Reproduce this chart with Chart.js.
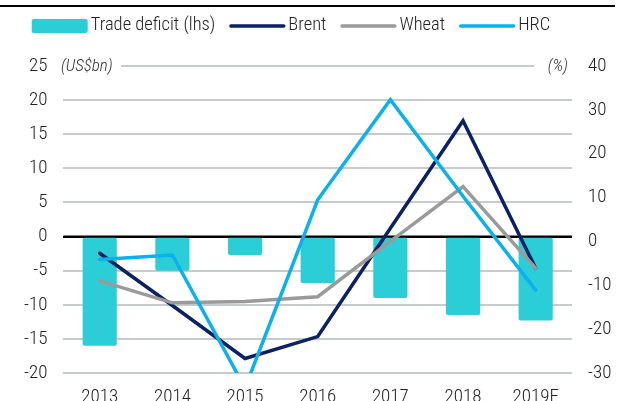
<!DOCTYPE html>
<html><head><meta charset="utf-8">
<script src="https://cdn.jsdelivr.net/npm/chart.js@4"></script>
<style>html,body{margin:0;padding:0;background:#fff}#wrap{width:617px;height:401px;position:relative;overflow:hidden}</style>
</head><body><div id="wrap"><canvas id="c" width="617" height="401"></canvas></div>
<script>
const categories = ['2013','2014','2015','2016','2017','2018','2019F'];
const tradeDeficit = [-16.0, -5.0, -2.7, -6.8, -9.0, -11.5, -12.3];
const brent = [-2.7, -14.6, -26.7, -21.7, 3.0, 27.5, -6.1];
const wheat = [-9.0, -14.0, -13.7, -12.6, 0.0, 12.5, -6.1];
const hrc = [-4.1, -3.1, -33.4, 9.5, 32.3, 10.3, -11.1];
const leftTicks = [-20, -15, -10, -5, 0, 5, 10, 15, 20, 25];
const rightTicks = [-30, -20, -10, 0, 10, 20, 30, 40];
const seriesLabels = ['Trade deficit (lhs)', 'Brent', 'Wheat', 'HRC'];
const unitLeft = '(US$bn)';
const unitRight = '(%)';

const FONT = "'Roboto Condensed','DejaVu Sans Condensed',sans-serif";
const TEXT = '#222222';
const GRID = '#C8CBCB';
const TICK_SIZE = 19;
const WEIGHT = 300;

const decor = {
  id: 'decor',
  afterDatasetDraw(chart, args) {
    if (args.index !== 0) return;
    const ctx = chart.ctx, ca = chart.chartArea;
    const y = chart.scales.y.getPixelForValue(0);
    ctx.save();
    ctx.strokeStyle = '#000'; ctx.lineWidth = 2;
    ctx.beginPath(); ctx.moveTo(ca.left, y); ctx.lineTo(ca.right, y); ctx.stroke();
    ctx.restore();
  },
  afterDraw(chart) {
    const ctx = chart.ctx, ca = chart.chartArea;
    ctx.save();
    // top rule
    ctx.strokeStyle = '#000'; ctx.lineWidth = 2;
    ctx.beginPath(); ctx.moveTo(0, 6); ctx.lineTo(615, 6); ctx.stroke();
    // unit labels on top gridline
    const yTop = chart.scales.y.getPixelForValue(leftTicks[leftTicks.length - 1]);
    ctx.fillStyle = '#fff';
    ctx.fillRect(ca.left - 1, yTop - 3, 122 - ca.left, 6);
    ctx.fillRect(534, yTop - 3, ca.right - 534 + 1, 6);
    ctx.font = 'italic ' + WEIGHT + ' 17px ' + FONT;
    ctx.fillStyle = '#333';
    ctx.textBaseline = 'middle';
    ctx.textAlign = 'left';
    ctx.fillText(unitLeft, 61, yTop + 1);
    ctx.textAlign = 'right';
    ctx.fillText(unitRight, 568, yTop + 1);
    // legend
    let x = 31.7;
    const yc = 26;
    ctx.font = WEIGHT + ' 18.5px ' + FONT;
    chart.data.datasets.forEach(ds => {
      if (ds.type === 'bar') {
        ctx.fillStyle = ds.backgroundColor;
        ctx.beginPath();
        ctx.roundRect(x, yc - 7, 56, 14, 2);
        ctx.fill();
      } else {
        ctx.strokeStyle = ds.borderColor;
        ctx.lineWidth = 3.3;
        ctx.lineCap = 'round';
        ctx.beginPath(); ctx.moveTo(x + 1.5, yc); ctx.lineTo(x + 54.5, yc); ctx.stroke();
      }
      x += 56 + 3;
      ctx.fillStyle = TEXT;
      ctx.textAlign = 'left';
      ctx.textBaseline = 'middle';
      ctx.fillText(ds.label, x, yc - 1);
      x += ctx.measureText(ds.label).width + 14;
    });
    ctx.restore();
  }
};

const lineBase = { type: 'line', yAxisID: 'y1', borderWidth: 3.5, pointRadius: 0, pointHoverRadius: 0,
  tension: 0, fill: false, borderCapStyle: 'round', clip: 0 };

const tickFont = { family: FONT, size: TICK_SIZE, weight: WEIGHT };

new Chart(document.getElementById('c'), {
  data: {
    labels: categories,
    datasets: [
      { type: 'bar', label: seriesLabels[0], data: tradeDeficit, yAxisID: 'y', backgroundColor: '#2BCDD6',
        borderRadius: 2, borderSkipped: false, barPercentage: 1, categoryPercentage: 0.47, order: 10 },
      Object.assign({}, lineBase, { label: seriesLabels[1], data: brent, borderColor: '#0A2163', backgroundColor: '#0A2163', order: 3 }),
      Object.assign({}, lineBase, { label: seriesLabels[2], data: wheat, borderColor: '#9A9A9A', backgroundColor: '#9A9A9A', order: 2 }),
      Object.assign({}, lineBase, { label: seriesLabels[3], data: hrc, borderColor: '#0AB1EE', backgroundColor: '#0AB1EE', order: 1 })
    ]
  },
  options: {
    responsive: false,
    devicePixelRatio: 1,
    animation: false,
    layout: { padding: { top: 66, left: 0, right: 0, bottom: -21.4 } },
    plugins: { legend: { display: false }, tooltip: { enabled: false } },
    scales: {
      x: {
        offset: true,
        grid: { display: false, drawTicks: false },
        border: { display: false },
        ticks: { font: tickFont, color: TEXT, padding: 13.3, maxRotation: 0, autoSkip: false }
      },
      y: {
        position: 'left', min: -20, max: 25,
        afterBuildTicks: s => { s.ticks = leftTicks.map(v => ({ value: v })); },
        afterFit: s => { s.width = 63.4; },
        grid: { color: c => (c.tick && c.tick.value === 0) ? '#000' : GRID, lineWidth: 2, drawTicks: false },
        border: { display: false },
        ticks: { font: tickFont, color: TEXT, padding: 16 }
      },
      y1: {
        position: 'right', min: -30, max: 40,
        afterBuildTicks: s => { s.ticks = rightTicks.map(v => ({ value: v })); },
        afterFit: s => { s.width = 45; },
        grid: { display: false, drawTicks: false },
        border: { display: false },
        ticks: { font: tickFont, color: TEXT, padding: 16 }
      }
    }
  },
  plugins: [decor]
});
</script>
</body></html>
